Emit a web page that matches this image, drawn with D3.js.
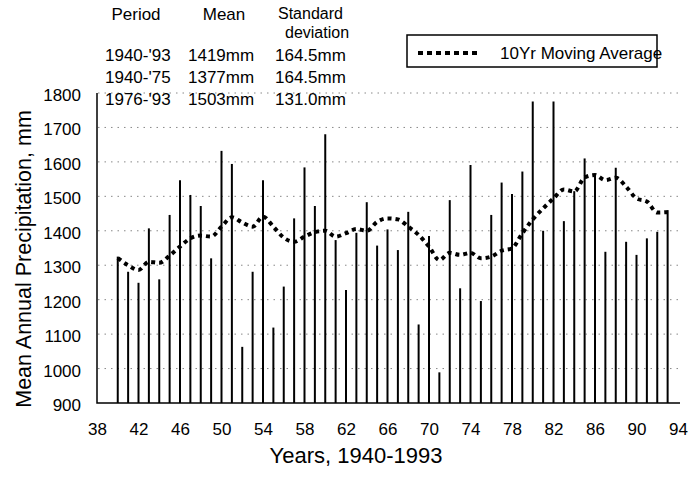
<!DOCTYPE html>
<html>
<head>
<meta charset="utf-8">
<script src="https://cdn.jsdelivr.net/npm/d3@7"></script>
<style>
	body { margin: 0; background: #fff; }
	svg text { font-family: Arial, "Liberation Sans", sans-serif; fill: #000; }
</style>
</head>
<body>
<div id="chart"></div>
<script>
//DATA
var years = [1940,1941,1942,1943,1944,1945,1946,1947,1948,1949,
	1950,1951,1952,1953,1954,1955,1956,1957,1958,1959,
	1960,1961,1962,1963,1964,1965,1966,1967,1968,1969,
	1970,1971,1972,1973,1974,1975,1976,1977,1978,1979,
	1980,1981,1982,1983,1984,1985,1986,1987,1988,1989,
	1990,1991,1992,1993];

var precip = [1325,1281,1249,1407,1259,1446,1547,1504,1472,1320,
	1632,1594,1063,1281,1547,1119,1238,1436,1584,1472,
	1680,1373,1228,1394,1483,1357,1404,1344,1455,1128,
	1385,989,1489,1233,1591,1196,1446,1540,1507,1572,
	1775,1400,1775,1428,1515,1610,1564,1339,1583,1368,
	1330,1378,1397,1460];

var movingAvg = [1321,1300,1286,1310,1307,1328,1354,1378,1386,1383,
	1412,1439,1424,1412,1441,1412,1380,1368,1383,1396,
	1400,1383,1393,1405,1400,1426,1436,1433,1412,1388,
	1354,1315,1336,1330,1336,1320,1325,1342,1349,1393,
	1433,1465,1494,1520,1514,1555,1562,1547,1554,1528,
	1494,1485,1453,1454];

var xTicks = [38,42,46,50,54,58,62,66,70,74,78,82,86,90,94];
var yTicks = [900,1000,1100,1200,1300,1400,1500,1600,1700,1800];

var tableHead = ['Period', 'Mean', 'Standard', 'deviation'];
var tableRows = [
	['1940-\'93', '1419mm', '164.5mm'],
	['1940-\'75', '1377mm', '164.5mm'],
	['1976-\'93', '1503mm', '131.0mm']
];

var width = 689, height = 477;

var svg = d3.select('#chart').append('svg')
	.attr('width', width)
	.attr('height', height);

//SCALES
var x = d3.scaleLinear().domain([38, 94]).range([97, 678]);
var y = d3.scaleLinear().domain([900, 1800]).range([403, 93]);

//gridlines, dotted
svg.append('g')
	.selectAll('line')
	.data(yTicks.slice(1))
	.enter()
	.append('line')
	.attr('x1', 98)
	.attr('x2', 680)
	.attr('y1', function(d){ return y(d); })
	.attr('y2', function(d){ return y(d); })
	.attr('stroke', '#888')
	.attr('stroke-width', 1)
	.attr('stroke-dasharray', '1.5,5');

//bars (thin vertical lines)
svg.append('g')
	.selectAll('line')
	.data(precip)
	.enter()
	.append('line')
	.attr('x1', function(d, i){ return x(years[i] - 1900); })
	.attr('x2', function(d, i){ return x(years[i] - 1900); })
	.attr('y1', y(900))
	.attr('y2', function(d){ return y(d); })
	.attr('stroke', '#000')
	.attr('stroke-width', 2);

//moving average
var avgLine = d3.line()
	.x(function(d, i){ return x(years[i] - 1900); })
	.y(function(d){ return y(d); })
	.curve(d3.curveMonotoneX);

svg.append('path')
	.datum(movingAvg)
	.attr('d', avgLine)
	.attr('fill', 'none')
	.attr('stroke', '#000')
	.attr('stroke-width', 4)
	.attr('stroke-dasharray', '4,4');

//AXES
var xAxis = svg.append('g')
	.attr('transform', 'translate(0,' + y(900) + ')')
	.call(d3.axisBottom(x).tickValues(xTicks).tickSize(0).tickPadding(20));
xAxis.select('.domain').remove();
xAxis.selectAll('text').attr('font-size', 17).attr('font-family', null);

var yAxis = svg.append('g')
	.attr('transform', 'translate(' + x(38) + ',2)')
	.call(d3.axisLeft(y).tickValues(yTicks).tickFormat(d3.format('d')).tickSize(0).tickPadding(16));
yAxis.select('.domain').remove();
yAxis.selectAll('text').attr('font-size', 17).attr('font-family', null);

svg.append('path')
	.attr('d', 'M' + x(38) + ',' + y(1800) + 'V' + y(900) + 'H' + (x(94) + 2))
	.attr('fill', 'none')
	.attr('stroke', '#000')
	.attr('stroke-width', 1.5);

//axis titles
svg.append('text')
	.attr('transform', 'translate(31,259) rotate(-90)')
	.attr('text-anchor', 'middle')
	.attr('font-size', 21.5)
	.text('Mean Annual Precipitation, mm');

svg.append('text')
	.attr('x', 356)
	.attr('y', 463)
	.attr('text-anchor', 'middle')
	.attr('font-size', 22)
	.text('Years, 1940-1993');

//TABLE
var table = svg.append('g').attr('font-size', 17);
table.append('text').attr('x', 136).attr('y', 20).attr('text-anchor', 'middle').text(tableHead[0]);
table.append('text').attr('x', 224).attr('y', 20).attr('text-anchor', 'middle').text(tableHead[1]);
table.append('text').attr('x', 278).attr('y', 19).attr('font-size', 16).text(tableHead[2]);
table.append('text').attr('x', 285).attr('y', 38).attr('font-size', 16).text(tableHead[3]);

var colX = [105, 188, 275];
table.selectAll('g.row')
	.data(tableRows)
	.enter()
	.append('g')
	.attr('class', 'row')
	.attr('transform', function(d, i){ return 'translate(0,' + (61 + i * 22) + ')'; })
	.selectAll('text')
	.data(function(d){ return d; })
	.enter()
	.append('text')
	.attr('x', function(d, i){ return colX[i]; })
	.text(function(d){ return d; });

//LEGEND
var legend = svg.append('g');
legend.append('rect')
	.attr('x', 407)
	.attr('y', 35)
	.attr('width', 250)
	.attr('height', 32)
	.attr('fill', 'none')
	.attr('stroke', '#000')
	.attr('stroke-width', 1.5);
legend.append('line')
	.attr('x1', 418)
	.attr('x2', 478)
	.attr('y1', 53)
	.attr('y2', 53)
	.attr('stroke', '#000')
	.attr('stroke-width', 4)
	.attr('stroke-dasharray', '5,4');
legend.append('text')
	.attr('x', 500)
	.attr('y', 59)
	.attr('font-size', 17)
	.text('10Yr Moving Average');
</script>
</body>
</html>
